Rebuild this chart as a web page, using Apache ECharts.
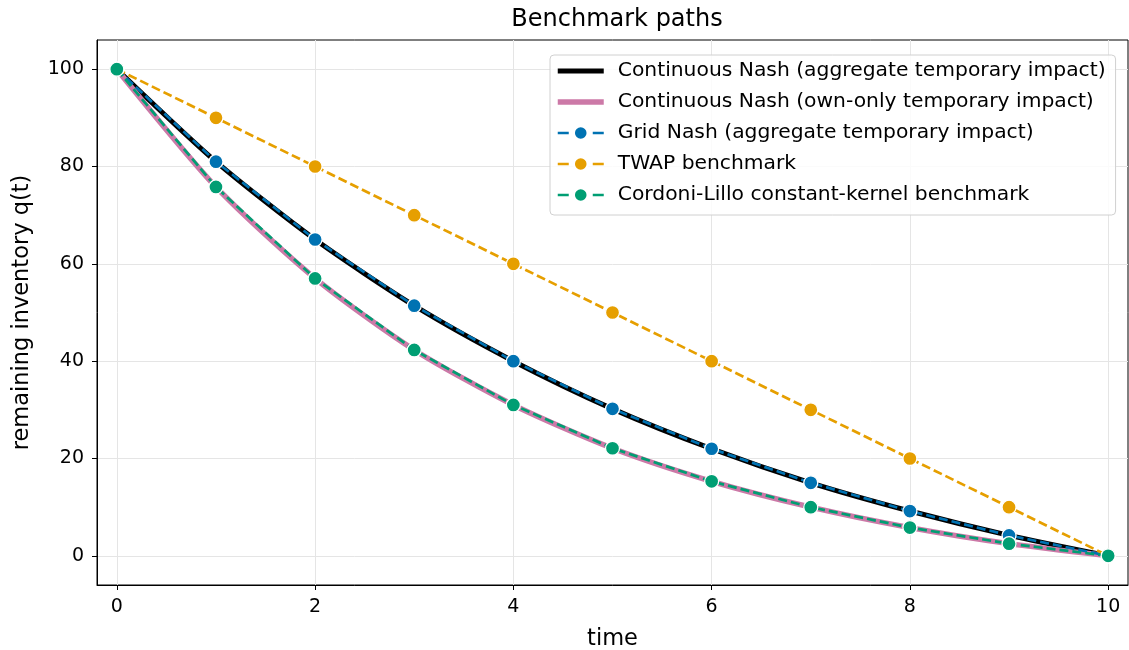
<!DOCTYPE html>
<html><head><meta charset="utf-8">
<script src="https://cdn.jsdelivr.net/npm/echarts@6/dist/echarts.min.js"></script>
<style>html,body{margin:0;padding:0;background:#fff}#c{width:1129px;height:650px}</style>
</head><body><div id="c"></div>
<script>
const times = [0,1,2,3,4,5,6,7,8,9,10];
const gridNash = [100,81.0,65.0,51.4,40.0,30.2,22.0,15.0,9.2,4.2,0];
const twap = [100,90,80,70,60,50,40,30,20,10,0];
const cordoni = [100,75.8,57.0,42.3,31.0,22.1,15.3,10.0,5.8,2.5,0];
const contAgg = [100,81.0,65.0,51.4,40.0,30.2,22.0,15.0,9.2,4.2,0];
const contOwn = [100,75.8,57.0,42.3,31.0,22.1,15.3,10.0,5.8,2.5,0];
const xTicks = [0,2,4,6,8,10];
const yTicks = [0,20,40,60,80,100];
const names = ['Continuous Nash (aggregate temporary impact)','Continuous Nash (own-only temporary impact)','Grid Nash (aggregate temporary impact)','TWAP benchmark','Cordoni-Lillo constant-kernel benchmark'];

const pair = (ys) => times.map((t,i)=>[t,ys[i]]);
const font = 'DejaVu Sans';
const C_BLACK = '#000000', C_PINK = '#cc79a7', C_BLUE = '#0072b2', C_ORANGE = '#e69f00', C_GREEN = '#009e73';
const chart = echarts.init(document.getElementById('c'), null, {renderer:'canvas'});
const mk = (name, data, color, opt) => Object.assign({
  name, type:'line', data: pair(data), animation:false,
  lineStyle:{color, width:2.7, type:[9,4]}, itemStyle:{color, borderColor:'#fff', borderWidth:1.3},
  symbol:'circle', symbolSize:14, showSymbol:true
}, opt||{});
const noMark = {color:'transparent', borderColor:'transparent', opacity:0};
chart.setOption({
  animation:false,
  textStyle:{fontFamily:font},
  title:{text:'Benchmark paths', left:612, textAlign:'center', top:3, textStyle:{fontFamily:font, fontSize:24, fontWeight:'normal', color:'#000'}},
  grid:{left:97, right:1, top:40, bottom:65, show:true, borderColor:'#000', borderWidth:1, containLabel:false, outerBoundsMode:'none'},
  legend:{
    left:550, top:55, orient:'vertical', itemGap:11, itemWidth:46, itemHeight:17,
    backgroundColor:'rgba(255,255,255,0.85)', borderColor:'#d0d0d0', borderWidth:1, borderRadius:4,
    padding:[6,10,10,5],
    lineStyle:{width:'inherit'},
    textStyle:{fontFamily:font, fontSize:20.3, lineHeight:20, color:'#000', padding:[0,0,0,9]},
    data:[
      {name:names[0], itemStyle:noMark, lineStyle:{width:5, color:C_BLACK}},
      {name:names[1], itemStyle:noMark, lineStyle:{width:5.5, color:C_PINK}},
      {name:names[2], lineStyle:{type:[11,24], width:2.7}},
      {name:names[3], lineStyle:{type:[11,24], width:2.7}},
      {name:names[4], lineStyle:{type:[11,24], width:2.7}}
    ]
  },
  xAxis:{type:'value', min:-0.2, max:10.2, name:'time', nameLocation:'middle', nameGap:43,
    nameTextStyle:{fontFamily:font, fontSize:22.5, color:'#000'},
    axisLine:{show:true, onZero:false, lineStyle:{color:'#000'}},
    axisTick:{show:true, length:5, lineStyle:{color:'#000'}, customValues:xTicks},
    axisLabel:{fontFamily:font, fontSize:19, color:'#000', margin:13, customValues:xTicks},
    splitLine:{show:true, lineStyle:{color:'#e5e5e5', width:1}}},
  yAxis:{type:'value', min:-6, max:106, name:'remaining inventory q(t)', nameLocation:'middle', nameGap:63, nameRotate:90,
    nameTextStyle:{fontFamily:font, fontSize:22.5, color:'#000'},
    axisLine:{show:true, onZero:false, lineStyle:{color:'#000'}},
    axisTick:{show:true, length:5, lineStyle:{color:'#000'}, customValues:yTicks},
    axisLabel:{fontFamily:font, fontSize:19, color:'#000', margin:13, customValues:yTicks},
    splitLine:{show:true, lineStyle:{color:'#e5e5e5', width:1}}},
  series:[
    {name:names[0], type:'line', data:pair(contAgg), smooth:0.25, showSymbol:false, symbol:'none',
      lineStyle:{color:C_BLACK, width:5}, itemStyle:{color:C_BLACK}, z:2},
    {name:names[1], type:'line', data:pair(contOwn), smooth:0.25, showSymbol:false, symbol:'none',
      lineStyle:{color:C_PINK, width:5.5}, itemStyle:{color:C_PINK}, z:2},
    mk(names[2], gridNash, C_BLUE, {z:3}),
    mk(names[3], twap, C_ORANGE, {z:3}),
    mk(names[4], cordoni, C_GREEN, {z:4})
  ]
});
</script></body></html>
